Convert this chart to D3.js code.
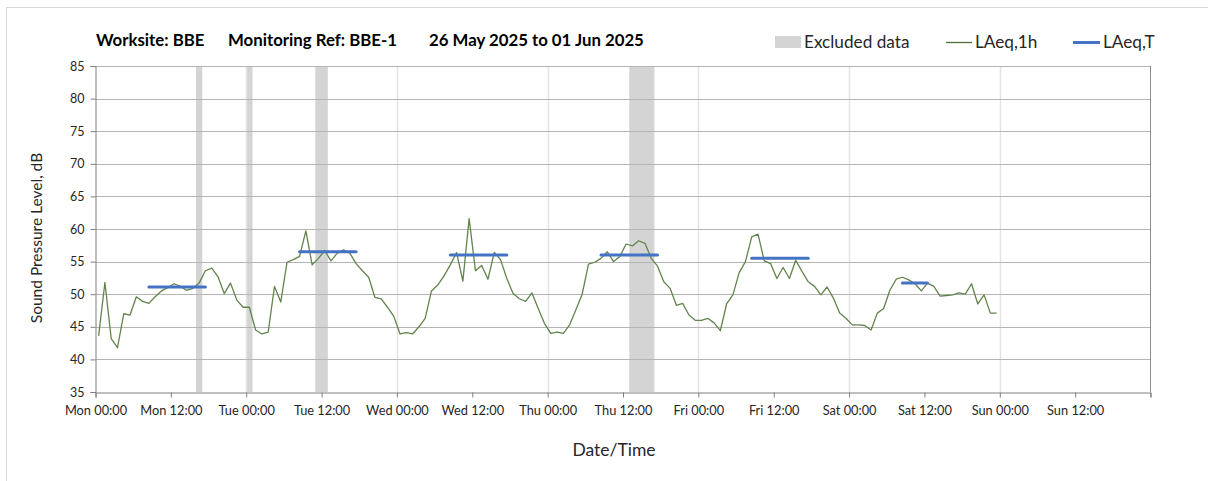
<!DOCTYPE html>
<html>
<head>
<meta charset="utf-8">
<script src="https://cdn.jsdelivr.net/npm/d3@7"></script>
<style>
  html, body { margin: 0; padding: 0; background: #fff; }
  svg { display: block; font-family: Lato, "Open Sans", sans-serif; }
</style>
</head>
<body>
<svg id="chart" width="1208" height="481"></svg>
<script>
// Monitoring week, hourly LAeq,1h values starting Mon 26 May 2025 00:00
const weekStart = "2025-05-26T00:00:00Z";
const weekEnd = "2025-06-02T00:00:00Z";

const laeq1h = [
  43.6, 51.8, 43.2, 41.8, 47.0, 46.8, 49.6, 48.9, 48.6, 49.6, 50.5, 51.0,
  51.6, 51.2, 50.6, 50.9, 51.7, 53.6, 54.0, 52.7, 50.1, 51.7, 49.1, 48.0,
  48.0, 44.5, 43.9, 44.2, 51.2, 48.8, 54.9, 55.3, 55.8, 59.7, 54.5, 55.5,
  56.7, 55.1, 56.3, 56.8, 56.3, 54.7, 53.6, 52.6, 49.5, 49.3, 48.0, 46.6,
  43.9, 44.1, 43.9, 45.0, 46.3, 50.5, 51.4, 52.8, 54.5, 56.4, 52.0, 61.6,
  53.6, 54.4, 52.3, 56.4, 55.3, 52.4, 50.1, 49.3, 48.9, 50.2, 47.8, 45.5,
  44.0, 44.2, 44.0, 45.3, 47.6, 50.0, 54.6, 54.9, 55.5, 56.5, 55.0, 55.8,
  57.7, 57.4, 58.2, 57.8, 55.5, 54.3, 51.9, 50.9, 48.3, 48.6, 46.8, 46.0,
  46.0, 46.3, 45.6, 44.4, 48.5, 49.9, 53.3, 55.0, 58.8, 59.2, 55.1, 54.7,
  52.4, 54.1, 52.4, 55.2, 53.5, 51.9, 51.2, 49.9, 51.1, 49.4, 47.1, 46.3,
  45.3, 45.3, 45.2, 44.5, 47.1, 47.8, 50.6, 52.3, 52.6, 52.2, 51.6, 50.5,
  51.7, 51.2, 49.7, 49.8, 49.9, 50.2, 50.0, 51.6, 48.5, 49.9, 47.1, 47.1
];

// Daytime LAeq,T periods
const periodStart = ["2025-05-26T08:00:00Z", "2025-05-27T08:00:00Z", "2025-05-28T08:00:00Z",
                     "2025-05-29T08:00:00Z", "2025-05-30T08:00:00Z", "2025-05-31T08:00:00Z"];
const periodEnd   = ["2025-05-26T18:00:00Z", "2025-05-27T18:00:00Z", "2025-05-28T18:00:00Z",
                     "2025-05-29T18:00:00Z", "2025-05-30T18:00:00Z", "2025-05-31T13:00:00Z"];
const laeqT = [51.1, 56.5, 56.0, 56.0, 55.5, 51.7];

// Excluded data windows
const excludedStart = ["2025-05-26T16:00:00Z", "2025-05-27T00:00:00Z", "2025-05-27T11:00:00Z", "2025-05-29T13:00:00Z"];
const excludedEnd   = ["2025-05-26T17:00:00Z", "2025-05-27T01:00:00Z", "2025-05-27T13:00:00Z", "2025-05-29T17:00:00Z"];

const yTicks = [35, 40, 45, 50, 55, 60, 65, 70, 75, 80, 85];
const xTickLabels = ["Mon 00:00", "Mon 12:00", "Tue 00:00", "Tue 12:00", "Wed 00:00", "Wed 12:00",
                     "Thu 00:00", "Thu 12:00", "Fri 00:00", "Fri 12:00", "Sat 00:00", "Sat 12:00",
                     "Sun 00:00", "Sun 12:00", ""];

const titleParts = ["Worksite: BBE", "Monitoring Ref: BBE-1", "26 May 2025 to 01 Jun 2025"];

const svg = d3.select("#chart");
const t0 = new Date(weekStart), t1 = new Date(weekEnd);

const plot = { left: 95.5, right: 1150.5, top: 66, bottom: 392 };
const x = d3.scaleUtc().domain([t0, t1]).range([plot.left, plot.right]);
const y = d3.scaleLinear().domain([35, 85]).range([plot.bottom, plot.top]);

// outer frame
svg.append("rect").attr("x", 6.5).attr("y", 7.5).attr("width", 1210).attr("height", 490)
  .attr("fill", "none").attr("stroke", "#d9d9d9");

// excluded bands
svg.append("g").selectAll("rect").data(excludedStart).join("rect")
  .attr("x", (d) => x(new Date(d)))
  .attr("width", (d, i) => x(new Date(excludedEnd[i])) - x(new Date(d)))
  .attr("y", plot.top).attr("height", plot.bottom - plot.top)
  .attr("fill", "#d4d4d4");

// vertical day gridlines
const dayTicks = d3.utcDay.every(1).range(d3.utcDay.offset(t0, 1), t1);
svg.append("g").selectAll("line").data(dayTicks).join("line")
  .attr("x1", (d) => Math.round(x(d)) + 0.5).attr("x2", (d) => Math.round(x(d)) + 0.5)
  .attr("y1", plot.top).attr("y2", plot.bottom)
  .attr("stroke", "#e3e3e3").attr("stroke-width", 1.5);

// horizontal gridlines
svg.append("g").selectAll("line").data(yTicks.slice(1)).join("line")
  .attr("x1", plot.left).attr("x2", plot.right)
  .attr("y1", (d) => Math.round(y(d)) + 0.5).attr("y2", (d) => Math.round(y(d)) + 0.5)
  .attr("stroke", "#b4b4b4").attr("stroke-width", 1);

// right edge of plot
svg.append("line").attr("x1", plot.right).attr("x2", plot.right)
  .attr("y1", plot.top).attr("y2", plot.bottom).attr("stroke", "#8c8c8c");

// axes
const xTickValues = d3.utcHour.every(12).range(t0, d3.utcHour.offset(t1, 1));
const xAxis = d3.axisBottom(x).tickValues(xTickValues)
  .tickFormat((d, i) => xTickLabels[i]).tickSizeOuter(0).tickSize(5).tickPadding(8);
const gx = svg.append("g").attr("transform", `translate(0,${plot.bottom + 0.5})`).call(xAxis);
gx.select(".domain").attr("stroke", "#808080");
gx.selectAll(".tick line").attr("stroke", "#808080");
gx.selectAll(".tick text").attr("fill", "#262626").attr("font-size", 12.8)
  .attr("font-family", "Lato, sans-serif");

const yAxis = d3.axisLeft(y).tickValues(yTicks).tickSizeOuter(0).tickSize(5).tickPadding(6);
const gy = svg.append("g").attr("transform", `translate(${plot.left},0)`).call(yAxis);
gy.select(".domain").attr("stroke", "#808080");
gy.selectAll(".tick line").attr("stroke", "#808080");
gy.selectAll(".tick text").attr("fill", "#262626").attr("font-size", 12.5)
  .attr("font-family", "Lato, sans-serif");

// LAeq,1h line
const hourly = laeq1h.map((v, i) => ({ t: d3.utcMinute.offset(t0, i * 60 + 30), v }));
const line = d3.line().x((d) => x(d.t)).y((d) => y(d.v));
svg.append("path").datum(hourly).attr("d", line)
  .attr("fill", "none").attr("stroke", "#62834c").attr("stroke-width", 1.3)
  .attr("stroke-linejoin", "round");

// LAeq,T segments
svg.append("g").selectAll("line").data(laeqT).join("line")
  .attr("x1", (d, i) => x(d3.utcMinute.offset(new Date(periodStart[i]), 30)))
  .attr("x2", (d, i) => x(d3.utcMinute.offset(new Date(periodEnd[i]), -30)))
  .attr("y1", (d) => y(d)).attr("y2", (d) => y(d))
  .attr("stroke", "#4472c4").attr("stroke-width", 3).attr("stroke-linecap", "round");

// title
const titleX = [96, 228, 429];
svg.append("g").selectAll("text").data(titleParts).join("text")
  .attr("x", (d, i) => titleX[i]).attr("y", 46)
  .attr("font-size", 16.8).attr("font-weight", "bold").attr("fill", "#000")
  .text((d) => d);

// legend
const lg = svg.append("g").attr("font-size", 17.2).attr("fill", "#262626");
lg.append("rect").attr("x", 775).attr("y", 36).attr("width", 26).attr("height", 12).attr("fill", "#d4d4d4");
lg.append("text").attr("x", 804).attr("y", 48).attr("fill", "#262626").text("Excluded data");
lg.append("line").attr("x1", 946).attr("x2", 972).attr("y1", 42.5).attr("y2", 42.5)
  .attr("stroke", "#4f6f38").attr("stroke-width", 1.3);
lg.append("text").attr("x", 975).attr("y", 48).attr("fill", "#262626").text("LAeq,1h");
lg.append("line").attr("x1", 1073).attr("x2", 1100).attr("y1", 42.5).attr("y2", 42.5)
  .attr("stroke", "#4472c4").attr("stroke-width", 3);
lg.append("text").attr("x", 1103).attr("y", 48).attr("fill", "#262626").text("LAeq,T");

// axis titles
svg.append("text").attr("transform", "translate(42,238) rotate(-90)")
  .attr("text-anchor", "middle").attr("font-size", 15.5).attr("fill", "#262626")
  .text("Sound Pressure Level, dB");
svg.append("text").attr("x", 614).attr("y", 456)
  .attr("text-anchor", "middle").attr("font-size", 17.5).attr("fill", "#262626")
  .text("Date/Time");
</script>
</body>
</html>
